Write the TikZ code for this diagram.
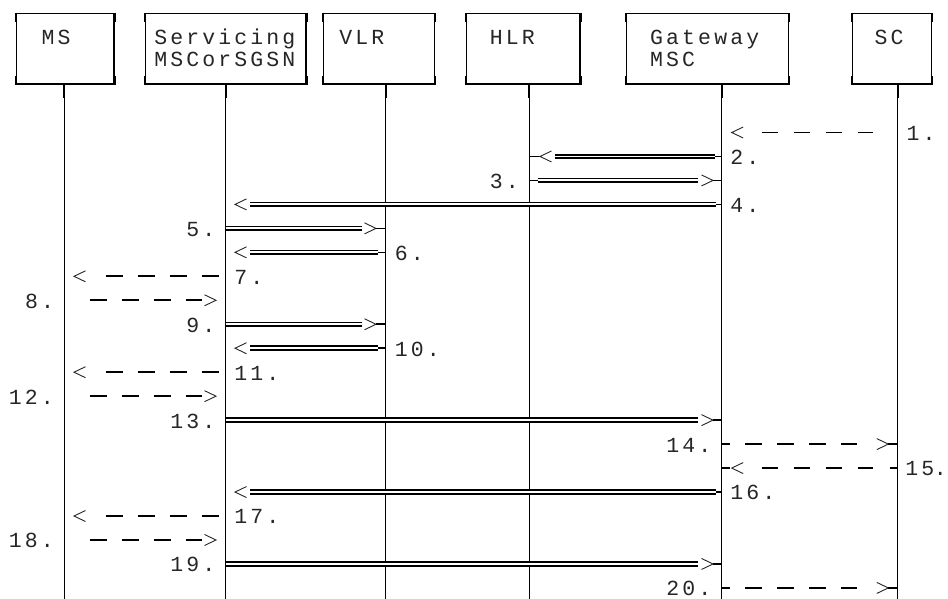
\documentclass[tikz,border=0pt]{standalone}
\usepackage{fontspec}
\newfontfamily\monof{Liberation Mono}
\usetikzlibrary{calc}
\makeatletter
\def\mchars#1{\mch@loop#1\relax}
\def\mch@loop#1{\ifx#1\relax\else\makebox[16.03bp]{#1}\expandafter\mch@loop\fi}
\makeatother
\newcommand\chL[2]{\draw[chev] ($(#1)+(#2,0)+(11.5,-5.5)$) -- ++(-11.5,5.5) -- ++(11.5,5.5);}
\newcommand\chR[2]{\draw[chev] ($(#1)+(#2,0)+(-11.5,-5.5)$) -- ++(11.5,5.5) -- ++(-11.5,5.5);}
\tikzset{
  box/.style={draw, line width=1.3bp, inner sep=0pt, rectangle, minimum height=70.7bp},
  txt/.style={font=\monof\fontsize{21.5bp}{24bp}\selectfont, text=black!85, inner sep=0pt, anchor=base west},
  life/.style={line width=1.1bp},
  stub/.style={line width=2.2bp},
  dbl/.style={double=white, double distance=1.9bp, line width=1.8bp},
  dsh/.style={line width=1.9bp, dash pattern=on 16.5bp off 15.56bp},
  chev/.style={line width=0.9bp, black!85},
  tick/.style={line width=1.6bp},
}
\begin{document}
\begin{tikzpicture}[x=1bp, y=-1bp]
\useasboundingbox (0,0) rectangle (948,599);
% boxes
\node[box, minimum width=97.3bp]  (ms)  at (65.35,48.65) {};
\node[box, minimum width=160.3bp] (sv)  at (225.85,48.65) {};
\node[box, minimum width=111bp]   (vlr) at (378.8,48.65) {};
\node[box, minimum width=113.3bp] (hlr) at (523.35,48.65) {};
\node[box, minimum width=161.6bp] (gw)  at (707.5,48.65) {};
\node[box, minimum width=79bp]    (sc)  at (892.2,48.65) {};
\foreach \b in {ms,sv,vlr,hlr,gw,sc}{
  \draw[stub] (\b.north west) -- ++(0,9);
  \draw[stub] (\b.north east) -- ++(0,9);
  \draw[stub] (\b.south west) -- ++(0,-9);
  \draw[stub] (\b.south east) -- ++(0,-9);
}
% box texts
\node[txt] (msT)  at (39.8,44.5) {\mchars{MS}};
\node[txt] (svT1) at (152.5,44.2) {\mchars{Servicing}};
\node[txt] (svT2) at (152.5,67) {\mchars{MSCorSGSN}};
\node[txt] (vlrT) at (337.5,44.5) {\mchars{VLR}};
\node[txt] (hlrT) at (488.1,44.5) {\mchars{HLR}};
\node[txt] (gwT1) at (648.4,44.2) {\mchars{Gateway}};
\node[txt] (gwT2) at (648.4,67) {\mchars{MSC}};
\node[txt] (scT)  at (872.9,44.5) {\mchars{SC}};
% lifelines
\coordinate (bot) at (0,599);
\coordinate (Lms)  at (64.3,84);
\coordinate (Lsv)  at (225.7,84);
\coordinate (Lvlr) at (385.7,84);
\coordinate (Lhlr) at (529.3,84);
\coordinate (Lgw)  at (721.7,84);
\coordinate (Lsc)  at (897.7,84);
\foreach \l in {ms,sv,vlr,hlr,gw,sc}{
  \draw[life] (L\l) -- (L\l |- bot);
  \draw[stub] (L\l) -- ++(0,14);
}
\foreach \k/\y in {1/132.5,2/156.47,3/180.44,4/204.41,5/228.38,6/252.35,7/276.32,8/300.29,9/324.26,10/348.23,11/372.2,12/396.17,13/420.14,14/444.11,15/468.08,16/492.05,17/516.02,18/539.99,19/563.96,20/587.93}{
  \foreach \l in {ms,sv,vlr,hlr,gw,sc}{ \coordinate (\l\k) at (L\l |- 0,\y); }
}
% 1
\chL{gw1}{10}
\draw[dsh] ($(gw1)+(40,0)$) -- ($(gw1)+(151.6,0)$);
% 2
\draw[tick] (hlr2) -- ($(hlr2)+(10.7,0)$);
\chL{hlr2}{10.7}
\draw[dbl] ($(hlr2)+(25.7,0)$) -- ($(gw2)+(-6.7,0)$);
\draw[tick] ($(gw2)+(-6.7,0)$) -- (gw2);
% 3
\draw[tick] (hlr3) -- ($(hlr3)+(8.2,0)$);
\draw[dbl] ($(hlr3)+(8.2,0)$) -- ($(gw3)+(-23.4,0)$);
\chR{gw3}{-8.7}
\draw[tick] ($(gw3)+(-8.7,0)$) -- (gw3);
% 4, 16
\foreach \k in {4,16}{
  \chL{sv\k}{9.3}
  \draw[dbl] ($(sv\k)+(24.3,0)$) -- ($(gw\k)+(-5.7,0)$);
  \draw[tick] ($(gw\k)+(-5.7,0)$) -- (gw\k);
}
% 5, 9
\foreach \k in {5,9}{
  \draw[dbl] (sv\k) -- ($(vlr\k)+(-24,0)$);
  \chR{vlr\k}{-9.7}
  \draw[tick] ($(vlr\k)+(-9.7,0)$) -- (vlr\k);
}
% 6, 10
\foreach \k in {6,10}{
  \chL{sv\k}{9.3}
  \draw[dbl] ($(sv\k)+(24.3,0)$) -- ($(vlr\k)+(-7.4,0)$);
  \draw[tick] ($(vlr\k)+(-7.4,0)$) -- (vlr\k);
}
% 7, 11, 17
\foreach \k in {7,11,17}{
  \chL{ms\k}{9.7}
  \draw[dsh] ($(ms\k)+(41.7,0)$) -- (sv\k);
}
% 8, 12, 18
\foreach \k in {8,12,18}{
  \draw[dsh] ($(ms\k)+(25.7,0)$) -- ($(sv\k)+(-24,0)$);
  \chR{sv\k}{-9.7}
}
% 13, 19
\foreach \k in {13,19}{
  \draw[dbl] (sv\k) -- ($(gw\k)+(-23.4,0)$);
  \chR{gw\k}{-8.7}
  \draw[tick] ($(gw\k)+(-8.7,0)$) -- (gw\k);
}
% 14, 20
\foreach \k in {14,20}{
  \draw[tick] (gw\k) -- ($(gw\k)+(8.3,0)$);
  \draw[dsh] ($(gw\k)+(23.3,0)$) -- ($(gw\k)+(135,0)$);
  \chR{sc\k}{-9.4}
  \draw[tick] ($(sc\k)+(-9.4,0)$) -- (sc\k);
}
% 15
\draw[tick] (gw15) -- ($(gw15)+(8.3,0)$);
\chL{gw15}{10}
\draw[dsh] ($(gw15)+(40,0)$) -- ($(gw15)+(151.6,0)$);
\draw[tick] ($(sc15)+(-7.7,0)$) -- (sc15);
% labels
\node[txt] (t1)  at (904.9,140.4)  {\mchars{1.}};
\node[txt] (t2)  at (728.6,164.37) {\mchars{2.}};
\node[txt] (t3)  at (488.1,188.34) {\mchars{3.}};
\node[txt] (t4)  at (728.6,212.31) {\mchars{4.}};
\node[txt] (t5)  at (184.6,236.28) {\mchars{5.}};
\node[txt] (t6)  at (393,260.25)   {\mchars{6.}};
\node[txt] (t7)  at (232.6,284.22) {\mchars{7.}};
\node[txt] (t8)  at (23.3,308.19)  {\mchars{8.}};
\node[txt] (t9)  at (184.6,332.16) {\mchars{9.}};
\node[txt] (t10) at (393,356.13)   {\mchars{10.}};
\node[txt] (t11) at (232.6,380.1)  {\mchars{11.}};
\node[txt] (t12) at (7.2,404.07)   {\mchars{12.}};
\node[txt] (t13) at (168.5,428.04) {\mchars{13.}};
\node[txt] (t14) at (664.5,452.01) {\mchars{14.}};
\node[txt] (t15) at (903.5,475.98) {\mchars{15}\makebox[9bp][c]{.}};
\node[txt] (t16) at (728.6,499.95) {\mchars{16.}};
\node[txt] (t17) at (232.6,523.92) {\mchars{17.}};
\node[txt] (t18) at (7.2,547.89)   {\mchars{18.}};
\node[txt] (t19) at (168.5,571.86) {\mchars{19.}};
\node[txt] (t20) at (664.5,595.83) {\mchars{20.}};
\end{tikzpicture}
\end{document}
